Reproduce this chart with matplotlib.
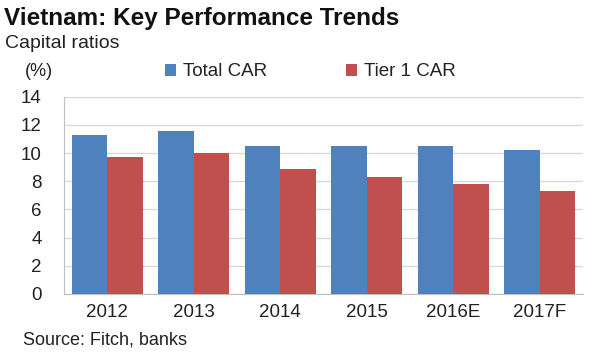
import matplotlib
matplotlib.use("Agg")
import matplotlib.pyplot as plt
import numpy as np

categories = ["2012", "2013", "2014", "2015", "2016E", "2017F"]
total_car = [11.3, 11.6, 10.5, 10.5, 10.5, 10.2]
tier1_car = [9.7, 10.0, 8.9, 8.3, 7.8, 7.3]
yticks = [0, 2, 4, 6, 8, 10, 12, 14]

blue = "#4F81BD"
red = "#C0504D"
plt.rcParams['font.family'] = ['Liberation Sans', 'DejaVu Sans']

fig = plt.figure(figsize=(6, 3.6), dpi=100)
ax = fig.add_axes([64/600, 1-294/360, (583-64)/600, (294-96.7)/360])

x = np.arange(len(categories))
w = 0.41
ax.bar(x - w/2, total_car, width=w, color=blue, label="Total CAR", zorder=3)
ax.bar(x + w/2, tier1_car, width=w, color=red, label="Tier 1 CAR", zorder=3)

ax.set_xlim(-0.5, len(categories) - 0.5)
ax.set_ylim(0, 14)
ax.set_yticks(yticks)
ax.set_xticks(x)
ax.set_xticklabels(categories)
ax.tick_params(axis='both', length=0, labelsize=13.5, colors="#222222")
ax.tick_params(axis='y', pad=16)
ax.tick_params(axis='x', pad=7)
ax.yaxis.grid(True, color="#D9D9D9", linewidth=1, zorder=0)
for s in ["top", "right"]:
    ax.spines[s].set_visible(False)
ax.spines["left"].set_color("#BFBFBF")
ax.spines["bottom"].set_color("#BFBFBF")

fig.text(4/600, 1-19/360, "Vietnam: Key Performance Trends", fontsize=17.5,
         fontweight="bold", va="center", ha="left", color="#111111")
fig.text(5/600, 1-44/360, "Capital ratios", fontsize=14, va="center", ha="left", color="#222222")
fig.text(25/600, 1-72/360, "(%)", fontsize=13, va="center", ha="left", color="#222222")
fig.text(23/600, 1-340/360, "Source: Fitch, banks", fontsize=13, va="center", ha="left", color="#222222")

leg = fig.legend(loc="center left", bbox_to_anchor=(158/600, 1-72/360), ncol=2, frameon=False,
                 fontsize=13.5, handlelength=0.55, handleheight=0.55, handletextpad=0.4,
                 columnspacing=4.2, borderaxespad=0)
for t in leg.get_texts():
    t.set_color("#222222")

fig.savefig("out.png", dpi=100)
